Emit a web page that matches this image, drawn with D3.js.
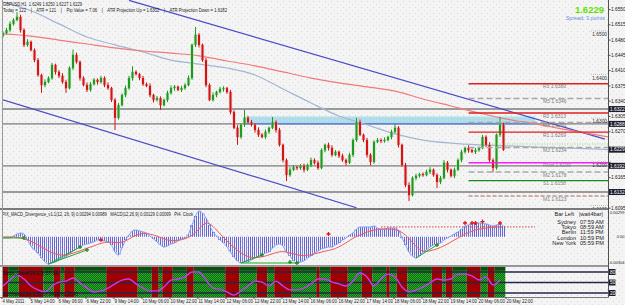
<!DOCTYPE html>
<html>
<head>
<meta charset="utf-8">
<script src="https://cdn.jsdelivr.net/npm/d3@7"></script>
<style>
body { margin: 0; background: #f3f3f3; }
svg { display: block; font-family: "Liberation Sans", Arial, sans-serif; }
.pre { white-space: pre; }
</style>
</head>
<body>
<svg id="chart" width="625" height="305"></svg>
<script>
// GBPUSD H1 (drawn as 2-hour candles), closes
const firstOpen = 1.6490;
const closes = [
  1.6496,1.6503,1.6517,1.6526,1.6533,1.6503,1.6469,1.6476,1.6457,1.6434,
  1.6400,1.6377,1.6384,1.6393,1.6423,1.6407,1.6398,1.6384,1.6370,1.6416,
  1.6446,1.6430,1.6393,1.6377,1.6366,1.6379,1.6389,1.6384,1.6393,1.6377,
  1.6370,1.6343,1.6302,1.6331,1.6354,1.6370,1.6393,1.6407,1.6402,1.6393,
  1.6379,1.6375,1.6354,1.6343,1.6347,1.6331,1.6343,1.6359,1.6370,1.6373,
  1.6366,1.6370,1.6377,1.6393,1.6469,1.6492,1.6469,1.6434,1.6377,1.6343,
  1.6354,1.6361,1.6368,1.6370,1.6361,1.6315,1.6279,1.6258,1.6286,1.6302,
  1.6292,1.6286,1.6274,1.6263,1.6258,1.6270,1.6279,1.6292,1.6274,1.6240,
  1.6205,1.6171,1.6183,1.6189,1.6187,1.6192,1.6183,1.6194,1.6205,1.6199,
  1.6187,1.6228,1.6240,1.6233,1.6217,1.6224,1.6215,1.6205,1.6199,1.6217,
  1.6251,1.6292,1.6263,1.6251,1.6217,1.6201,1.6247,1.6251,1.6249,1.6251,
  1.6258,1.6270,1.6279,1.6240,1.6194,1.6148,1.6125,1.6164,1.6169,1.6173,
  1.6171,1.6178,1.6183,1.6171,1.6155,1.6164,1.6199,1.6183,1.6169,1.6183,
  1.6205,1.6224,1.6233,1.6228,1.6224,1.6228,1.6233,1.6258,1.6240,1.6205,
  1.6187,1.6263,1.6286,1.6229
];
// wick lengths in pips above / below the body
const upWick = [
  4,5,6,4,11,5,4,6,3,4, 5,3,6,4,5,3,4,6,5,4, 12,5,3,4,6,5,4,3,5,4,
  6,3,4,5,4,6,5,13,4,3, 5,4,6,3,5,4,3,5,6,4, 3,5,4,6,3,18,4,3,5,4,
  6,3,5,4,3,5,4,6,3,18, 4,5,3,6,4,5,3,12,4,5, 3,4,6,5,3,4,5,3,6,4,
  5,4,3,5,6,4,3,5,4,5, 4,10,6,3,5,4,3,5,4,6, 3,5,8,4,3,5,6,4,5,3,
  4,5,6,3,4,5,6,4,3,5, 4,5,3,6,4,5,3,5,4,6, 4,3,18,5
];
const dnWick = [
  4,3,5,4,3,6,5,4,3,5, 4,18,5,3,4,6,5,4,11,3, 5,4,6,3,5,4,3,6,4,5,
  4,5,28,4,3,5,4,6,3,5, 4,3,5,6,4,11,3,5,4,6, 3,5,4,3,4,5,6,4,5,3,
  4,5,3,6,4,5,3,18,4,5, 3,4,6,5,3,4,5,3,6,4, 5,14,4,3,5,4,6,3,5,4,
  4,3,5,6,4,3,5,4,6,3, 5,4,3,5,6,8,4,3,5,4, 3,5,4,6,4,5,14,3,5,4,
  4,3,5,4,14,5,3,6,4,5, 3,5,4,6,3,5,4,3,5,4, 10,4,5,3
];
// moving averages, one value every 8 candles (shifted forward past the last bar)
const maRed = [1.6494,1.6489,1.6480,1.6471,1.6462,1.6455,1.6450,1.6444,1.6432,1.6421,1.6407,1.6393,
  1.6382,1.6373,1.6363,1.6345,1.6329,1.6313,1.6299,1.6288,1.6276,1.6265,1.6254];
const maBlue = [1.6567,1.6547,1.6517,1.6487,1.6469,1.6453,1.6434,1.6425,1.6416,1.6400,1.6368,1.6336,
  1.6306,1.6286,1.6265,1.6251,1.6244,1.6240,1.6238,1.6235,1.6233,1.6231,1.6228];
// channel lines [candle index, price]
const upperChannel = [[36, 1.6571], [172, 1.6253]];
const lowerChannel = [[0, 1.6343], [101, 1.6096]];
const hLevels = [1.6322, 1.6288, 1.6192, 1.6132];
const zoneBand = { from: 69, to: 152, top: 1.6305, bottom: 1.6288 };
const pivotNames = ["R3","M5","R2","M4","R1","M3","Pivot","M2","S1","M1"];
const pivotValues = [1.6380,1.6346,1.6313,1.6291,1.6269,1.6234,1.6199,1.6178,1.6158,1.6123];
const pivotFrom = 133;
const roundLevels = [1.6500, 1.6400, 1.6300, 1.6200, 1.6100];
const bidLine = 1.6242;
const lastPrice = 1.6229;
const priceTicks = [1.6550,1.6515,1.6480,1.6445,1.6410,1.6375,1.6340,1.6305,1.6270,1.6235,1.6200,1.6165,1.6130,1.6095];

// MACD (units of 0.0001)
const macdHist = [
  -1.3,-1.3,-1.3,0.9,3.1,4.2,3.1,-3.6,-10.3,-14.7,
  -18.1,-23.7,-28.2,-30.4,-29.3,-28.2,-25.9,-23.7,-22.6,-19.2,
  -15.9,-13.6,-11.4,-9.2,-8.0,-6.9,-5.8,-3.6,-3.6,-4.7,
  -5.8,-9.2,-17.0,-20.3,-12.5,-3.6,2.0,6.5,7.6,6.5,
  5.4,4.2,0.9,-2.5,-5.8,-9.2,-11.4,-10.3,-8.0,-6.9,
  -4.7,-2.5,-1.3,3.1,13.2,23.2,28.8,26.6,21.0,13.2,
  5.4,0.9,-3.6,-6.9,-11.4,-17.0,-22.6,-27.0,-29.3,-28.2,
  -28.2,-25.9,-23.7,-22.6,-20.3,-18.1,-17.0,-12.5,-9.2,-8.0,
  -10.3,-17.0,-21.4,-27.0,-29.3,-28.2,-27.0,-23.7,-21.4,-18.1,
  -15.9,-13.6,-12.5,-11.4,-11.4,-9.2,-6.9,-3.6,-1.3,2.0,
  4.2,8.7,10.9,10.9,10.9,10.9,12.1,9.8,8.7,8.7,
  9.8,9.8,9.8,7.6,-1.3,-9.2,-17.0,-21.4,-23.7,-21.4,
  -17.0,-14.7,-11.4,-9.2,-8.0,-6.9,-3.6,-1.3,0.9,3.1,
  5.4,8.7,12.1,13.2,14.3,15.4,15.4,15.4,14.3,13.2,
  12.1,13.2,14.3,12.1
];
// signal line, one value every 2 candles
const macdSignal = [
  -0.2,-0.2,-0.2,-2.5,-4.7,-9.2,-13.6,-18.1,-20.3,-20.9,
  -18.1,-15.9,-12.5,-10.3,-6.9,-5.8,-6.4,-6.9,-2.5,2.0,
  4.2,3.1,0.9,-2.5,-4.7,-4.1,-2.5,0.9,8.7,17.6,
  12.1,3.1,-4.7,-12.5,-18.1,-22.6,-23.7,-22.6,-20.3,-17.5,
  -15.9,-18.1,-20.3,-21.4,-20.3,-18.1,-15.9,-14.7,-11.4,-6.9,
  -1.3,2.0,5.4,7.6,8.7,8.7,8.2,5.4,-1.3,-11.4,
  -17.0,-15.9,-13.6,-10.3,-5.8,-1.3,3.1,6.5,8.7,9.8,
  10.9,10.9
];
const bullDiv = [[0,-1.3,6,-1.3],[13,-30.4,22,-11.4],[13,-30.4,24,-14.7],[68,-29.3,74,-20.3],[68,-29.3,84,-29.3],[118,-23.7,124,-9.2]];
const bullMarks = [[6,-1.3],[22,-11.4],[24,-14.7],[74,-20.3],[82,-28.2],[84,-29.3],[124,-9.2]];
const bearLine = [108, 11, 152, 11];
const bearMarks = [[28,-3.6],[93,3.1],[132,15.4],[134,15.4],[135,15.4],[137,17.0],[142,15.4]];
const macdAxis = [29.9, 0, -30.4];
const macdAxisText = ["0.00299", "0.00", "-0.00304"];

// stochastic, one value every 2 candles, and colour zones
const stochMain = [
  40,57,71,60,40,29,23,40,51,54, 63,49,34,23,26,34,46,57,60,46,
  34,26,26,37,57,60,66,80,80,57, 34,31,23,14,26,40,54,51,40,54,
  40,29,29,34,46,60,60,51,46,40, 54,77,66,40,60,74,66,37,23,29,
  37,49,60,57,60,74,74,69,57,66, 43,57
];
const zoneStart = [0,2,5,12,15,17,18,21,30,39,43,45,46,49,53,55,64,68,73,76,78,83,90,91,94,99,103,106,110,111,113,116,123,126,127,129,133,137,139,141];
const zoneUp    = [0,1,0,1,0,1,0,1,0,1,0,1,0,1,0,1,0,1,0,1,0,1,0,1,0,1,0,1,0,1,0,1,0,1,0,1,0,1,0,1];
const stochLevels = [80, 50, 20];

const timeLabels = ["4 May 2011","5 May 14:00","6 May 06:00","6 May 22:00","9 May 14:00","10 May 06:00",
  "10 May 22:00","11 May 14:00","12 May 06:00","12 May 22:00","13 May 14:00","16 May 06:00","16 May 22:00",
  "17 May 14:00","18 May 06:00","18 May 22:00","19 May 14:00","20 May 06:00","20 May 22:00"];
const cities = ["Sydney","Tokyo","Berlin","London","New York"];
const cityTimes = ["07:59 AM","08:59 AM","11:59 PM","10:59 PM","05:59 PM"];

const svg = d3.select("#chart");
const R = 608.5;
const x = d3.scaleLinear().domain([0, 173]).range([3, R]);
const y = d3.scaleLinear().domain([1.6550, 1.6130]).range([9.5, 192.9]);
const yM = d3.scaleLinear().domain([-30.4, 29.9]).range([264, 210]);
const yS = d3.scaleLinear().domain([0, 100]).range([300, 265]);

const defs = svg.append("defs");
const bg = defs.append("pattern").attr("id", "bg").attr("width", 6).attr("height", 6).attr("patternUnits", "userSpaceOnUse");
bg.append("rect").attr("width", 6).attr("height", 6).attr("fill", "#f4f4f4");
bg.append("rect").attr("x", 1).attr("y", 1).attr("width", 1).attr("height", 1).attr("fill", "#d6d6d6");
bg.append("rect").attr("x", 4).attr("y", 4).attr("width", 1).attr("height", 1).attr("fill", "#e0e0e0");
const gp = defs.append("pattern").attr("id", "grn").attr("width", 2).attr("height", 2).attr("patternUnits", "userSpaceOnUse");
gp.append("rect").attr("width", 2).attr("height", 2).attr("fill", "#057205");
gp.append("rect").attr("width", 1).attr("height", 1).attr("fill", "#2fa42f");
gp.append("rect").attr("x", 1).attr("y", 1).attr("width", 1).attr("height", 1).attr("fill", "#2fa42f");
const sp = defs.append("pattern").attr("id", "stripe").attr("width", 2).attr("height", 4).attr("patternUnits", "userSpaceOnUse");
sp.append("rect").attr("width", 1).attr("height", 4).attr("fill", "#6464d8");
const bp = defs.append("pattern").attr("id", "band").attr("width", 3).attr("height", 3).attr("patternUnits", "userSpaceOnUse");
bp.append("rect").attr("width", 3).attr("height", 3).attr("fill", "#aedcee");
bp.append("rect").attr("width", 1).attr("height", 1).attr("fill", "#c4eabc");
defs.append("clipPath").attr("id", "cMain").append("rect").attr("x", 3).attr("y", 0).attr("width", R - 3).attr("height", 208);
defs.append("clipPath").attr("id", "cMacd").append("rect").attr("x", 3).attr("y", 210).attr("width", R - 3).attr("height", 55);
defs.append("clipPath").attr("id", "cSto").append("rect").attr("x", 3).attr("y", 267).attr("width", R - 3).attr("height", 30);

svg.append("rect").attr("width", 625).attr("height", 305).attr("fill", "url(#bg)");

// ---------- main price panel ----------
const gm = svg.append("g").attr("clip-path", "url(#cMain)");

gm.append("rect")
  .attr("x", x(zoneBand.from)).attr("y", y(zoneBand.top))
  .attr("width", x(zoneBand.to) - x(zoneBand.from)).attr("height", y(zoneBand.bottom) - y(zoneBand.top))
  .attr("fill", "url(#band)");

gm.selectAll("line.hl").data(hLevels).join("line")
  .attr("x1", 3).attr("x2", R).attr("y1", d => y(d)).attr("y2", d => y(d))
  .attr("stroke", "#7c7c7c").attr("stroke-width", 1.4);

gm.append("line")
  .attr("x1", x(zoneBand.from)).attr("x2", x(zoneBand.to))
  .attr("y1", y(zoneBand.bottom)).attr("y2", y(zoneBand.bottom))
  .attr("stroke", "#4a78ff").attr("stroke-width", 1);

[upperChannel, lowerChannel].forEach(ch => {
  gm.append("line")
    .attr("x1", x(ch[0][0])).attr("y1", y(ch[0][1]))
    .attr("x2", x(ch[1][0])).attr("y2", y(ch[1][1]))
    .attr("stroke", "#4b4bc8").attr("stroke-width", 1.2);
});

const maLine = d3.line().x((d, j) => x(j * 8)).y(d => y(d)).curve(d3.curveMonotoneX);
gm.append("path").attr("d", maLine(maBlue)).attr("fill", "none").attr("stroke", "#a3b6d2").attr("stroke-width", 1.2);
gm.append("path").attr("d", maLine(maRed)).attr("fill", "none").attr("stroke", "#f07a7a").attr("stroke-width", 1.2);

const bars = closes.map((c, i) => {
  const o = i ? closes[i - 1] : firstOpen;
  return { i, o, c, h: Math.max(o, c) + upWick[i] / 1e4, l: Math.min(o, c) - dnWick[i] / 1e4 };
});
const col = d => d.c >= d.o ? "#1f9a1f" : "#d31414";
const halo = d => d.c >= d.o ? "#a8d8a8" : "#eeb0b0";
gm.selectAll("rect.halo").data(bars).join("rect")
  .attr("x", d => x(d.i) - 1.7).attr("width", 3.4)
  .attr("y", d => y(Math.max(d.o, d.c)) - 0.5)
  .attr("height", d => Math.max(2, Math.abs(y(d.o) - y(d.c)) + 1))
  .attr("fill", halo).attr("opacity", 0.6);
gm.selectAll("line.wick").data(bars).join("line")
  .attr("x1", d => x(d.i)).attr("x2", d => x(d.i))
  .attr("y1", d => y(d.h)).attr("y2", d => y(d.l))
  .attr("stroke", col).attr("stroke-width", 1);
gm.selectAll("rect.body").data(bars).join("rect")
  .attr("x", d => x(d.i) - 1).attr("width", 2)
  .attr("y", d => y(Math.max(d.o, d.c)))
  .attr("height", d => Math.max(1, Math.abs(y(d.o) - y(d.c))))
  .attr("fill", col);

// pivot levels
const pivStyle = n => n === "Pivot" ? { c: "#ff1aff", d: null, w: 1.4 }
  : n === "M1" ? { c: "#c49090", d: "4,2", w: 1.4 }
  : n[0] === "R" ? { c: "#e01e1e", d: null, w: 1.3 }
  : n[0] === "S" ? { c: "#1a8c1a", d: null, w: 1.3 }
  : { c: "#a8a8a8", d: "6,3", w: 1.5 };
pivotNames.forEach((n, k) => {
  const s = pivStyle(n);
  gm.append("line").attr("x1", x(pivotFrom)).attr("x2", R)
    .attr("y1", y(pivotValues[k])).attr("y2", y(pivotValues[k]))
    .attr("stroke", s.c).attr("stroke-width", s.w).attr("stroke-dasharray", s.d);
  gm.append("text").attr("x", 543).attr("y", y(pivotValues[k]) + 4.6)
    .attr("font-size", 5).attr("fill", "#7e7e7e").text(n + " " + pivotValues[k].toFixed(4));
});

gm.append("line").attr("x1", x(139)).attr("x2", R).attr("y1", y(bidLine)).attr("y2", y(bidLine))
  .attr("stroke", "#8ee06a").attr("stroke-width", 1).attr("stroke-dasharray", "1,1.5");

roundLevels.forEach(v => {
  gm.append("line").attr("x1", 591).attr("x2", 607).attr("y1", y(v) - 0.5).attr("y2", y(v) - 0.5)
    .attr("stroke", "#9a9a9a").attr("stroke-width", 0.6).attr("stroke-dasharray", "1,1");
  gm.append("text").attr("x", 607).attr("y", y(v) + 4.5).attr("text-anchor", "end")
    .attr("font-size", 4.8).attr("fill", "#303030").text(v.toFixed(4));
});

// header
svg.append("text").attr("class", "pre").attr("x", 3).attr("y", 6.3).attr("font-size", 5.3)
  .attr("fill", "#1a1a1a").attr("textLength", 79).attr("lengthAdjust", "spacingAndGlyphs")
  .text("GBPUSD,H1  1.6249 1.6250 1.6227 1.6229");
svg.append("text").attr("class", "pre").attr("x", 3).attr("y", 11.8).attr("font-size", 5.3)
  .attr("fill", "#1a1a1a").attr("textLength", 224).attr("lengthAdjust", "spacingAndGlyphs")
  .text("Today = 122    |    ATR = 121    |    Pip Value = 7.06    |    ATR Projection Up = 1.6302    |    ATR Projection Down = 1.6182");
svg.append("text").attr("x", 604).attr("y", 13).attr("text-anchor", "end").attr("font-size", 9.5)
  .attr("font-weight", "bold").attr("fill", "#5fe000").text(lastPrice.toFixed(4));
svg.append("text").attr("x", 605).attr("y", 19.6).attr("text-anchor", "end").attr("font-size", 5.4)
  .attr("fill", "#6b8fe2").text("Spread: 3 points");

// ---------- MACD panel ----------
const gd = svg.append("g").attr("clip-path", "url(#cMacd)");
gd.selectAll("rect.h").data(macdHist).join("rect")
  .attr("x", (d, i) => x(i) - 1.75).attr("width", 3.5)
  .attr("y", d => Math.min(yM(0), yM(d))).attr("height", d => Math.abs(yM(d) - yM(0)))
  .attr("fill", "url(#stripe)");
gd.append("path").attr("d", d3.line().x((d, i) => x(i)).y(d => yM(d)).curve(d3.curveMonotoneX)(macdHist))
  .attr("fill", "none").attr("stroke", "#7f9ff8").attr("stroke-width", 1);
gd.append("path").attr("d", d3.line().x((d, k) => x(k * 2)).y(d => yM(d)).curve(d3.curveBasis)(macdSignal))
  .attr("fill", "none").attr("stroke", "#f05a5a").attr("stroke-width", 1);
gd.selectAll("line.bd").data(bullDiv).join("line")
  .attr("x1", d => x(d[0])).attr("y1", d => yM(d[1])).attr("x2", d => x(d[2])).attr("y2", d => yM(d[3]))
  .attr("stroke", "#27a827").attr("stroke-width", 1);
gd.append("line").attr("x1", x(bearLine[0])).attr("y1", yM(bearLine[1])).attr("x2", x(bearLine[2])).attr("y2", yM(bearLine[3]))
  .attr("stroke", "#e04040").attr("stroke-width", 1).attr("stroke-dasharray", "1.5,1.5");
const plus = (g, data, c) => g.selectAll(null).data(data).join("path")
  .attr("d", d => `M${x(d[0]) - 2},${yM(d[1])}h4M${x(d[0])},${yM(d[1]) - 2}v4`)
  .attr("stroke", c).attr("stroke-width", 1.3);
plus(gd, bullMarks, "#1b8f1b");
plus(gd, bearMarks, "#e01818");

svg.append("text").attr("x", 2).attr("y", 215.8).attr("font-size", 5).attr("fill", "#1a1a1a")
  .attr("class", "pre").attr("textLength", 191).attr("lengthAdjust", "spacingAndGlyphs")
  .text("PIX_MACD_Divergence_v1.1(12, 26, 9) 0.00294 0.00989   MACD(12,26,9) 0.00129 0.00099   Pt4. Clock");

// clock box
svg.append("text").attr("x", 574).attr("y", 215.8).attr("text-anchor", "end").attr("font-size", 5.6).attr("fill", "#222").text("Bar Left");
svg.append("text").attr("x", 579).attr("y", 215.8).attr("font-size", 5.6).attr("fill", "#222").text("|wait4bar|");
cities.forEach((c, k) => {
  const yy = 223.8 + k * 5.3;
  svg.append("text").attr("x", 576).attr("y", yy).attr("text-anchor", "end").attr("font-size", 5.6).attr("fill", "#222").text(c);
  svg.append("text").attr("x", 580).attr("y", yy).attr("font-size", 5.6).attr("fill", "#222").text(cityTimes[k]);
});

// ---------- stochastic panel ----------
const gs = svg.append("g").attr("clip-path", "url(#cSto)");
const zones = zoneStart.map((s, k) => ({ s, e: k < zoneStart.length - 1 ? zoneStart[k + 1] : closes.length, up: zoneUp[k] }));
gs.selectAll("rect.z").data(zones).join("rect")
  .attr("x", d => x(d.s) - 1.75).attr("width", d => x(d.e) - x(d.s))
  .attr("y", 267).attr("height", 30)
  .attr("fill", d => d.up ? "url(#grn)" : "#a00000");
gs.selectAll("rect.zt").data(zones.filter(d => d.up)).join("rect")
  .attr("x", d => x(d.s) - 1.75).attr("width", d => x(d.e) - x(d.s))
  .attr("y", 267).attr("height", 3.5).attr("fill", "#0a4f0a");
stochLevels.forEach(v => {
  gs.append("line").attr("x1", 3).attr("x2", R).attr("y1", yS(v)).attr("y2", yS(v))
    .attr("stroke", "#26264a").attr("stroke-width", 1.5);
});
gs.append("path").attr("d", d3.line().x((d, k) => x(k * 2)).y(d => yS(d)).curve(d3.curveMonotoneX)(stochMain))
  .attr("fill", "none").attr("stroke", "#c23cf2").attr("stroke-width", 1.4);
svg.append("text").attr("x", 2).attr("y", 275).attr("font-size", 4.8).attr("fill", "#101010").text("Stoch_Zone(14,3,3) 57.14");
svg.append("text").attr("x", 2).attr("y", 295.5).attr("font-size", 4.8).attr("fill", "#101010").text("Stochastic(14,3,3) 57.1429 61.0345");

// ---------- frames & axes ----------
svg.append("line").attr("x1", 0).attr("x2", R).attr("y1", 209).attr("y2", 209).attr("stroke", "#7a7a7a").attr("stroke-width", 2);
svg.append("line").attr("x1", 0).attr("x2", R).attr("y1", 266).attr("y2", 266).attr("stroke", "#7a7a7a").attr("stroke-width", 1.5);
svg.append("line").attr("x1", 0).attr("x2", R).attr("y1", 297.5).attr("y2", 297.5).attr("stroke", "#7a7a7a").attr("stroke-width", 1);
svg.append("line").attr("x1", 2.5).attr("x2", 2.5).attr("y1", 0).attr("y2", 297).attr("stroke", "#9a9a9a").attr("stroke-width", 1);
svg.append("line").attr("x1", R).attr("x2", R).attr("y1", 0).attr("y2", 297.5).attr("stroke", "#505050").attr("stroke-width", 1);

const ax = svg.append("g").attr("font-size", 4.8).attr("fill", "#202020");
const boxed = hLevels.concat([lastPrice]);
priceTicks.forEach(v => {
  ax.append("line").attr("x1", R).attr("x2", R + 2).attr("y1", y(v)).attr("y2", y(v)).attr("stroke", "#505050");
  // labels hidden under a boxed price label are skipped
  if (boxed.some(b => Math.abs(y(b) - y(v)) < 6)) return;
  ax.append("text").attr("x", 611).attr("y", y(v) + 1.7).text(v.toFixed(4));
});
boxed.forEach(v => {
  ax.append("rect").attr("x", R + 0.5).attr("y", y(v) - 3).attr("width", 16.5).attr("height", 6).attr("fill", "#1c1c2a");
  ax.append("text").attr("x", 610).attr("y", y(v) + 1.8).attr("fill", "#ffffff").text(v.toFixed(4));
});
macdAxis.forEach((v, k) => {
  ax.append("text").attr("x", 624.5).attr("text-anchor", "end")
    .attr("y", Math.min(Math.max(yM(v) + 1.7, 214), 264))
    .attr("font-size", 4).text(macdAxisText[k]);
});
stochLevels.forEach(v => {
  ax.append("rect").attr("x", R + 0.5).attr("y", yS(v) - 3).attr("width", 6.5).attr("height", 6).attr("fill", "#1c1c2a");
  ax.append("text").attr("x", 610).attr("y", yS(v) + 1.8).attr("fill", "#ffffff").text(v);
});

timeLabels.forEach((t, k) => {
  const xx = x(k * 8) - 1;
  ax.append("line").attr("x1", xx).attr("x2", xx).attr("y1", 297).attr("y2", 299).attr("stroke", "#505050");
  ax.append("text").attr("x", xx + 0.5).attr("y", 303).attr("font-size", 4.6)
    .attr("textLength", t.length * 2.2).attr("lengthAdjust", "spacingAndGlyphs").text(t);
});
</script>
</body>
</html>
